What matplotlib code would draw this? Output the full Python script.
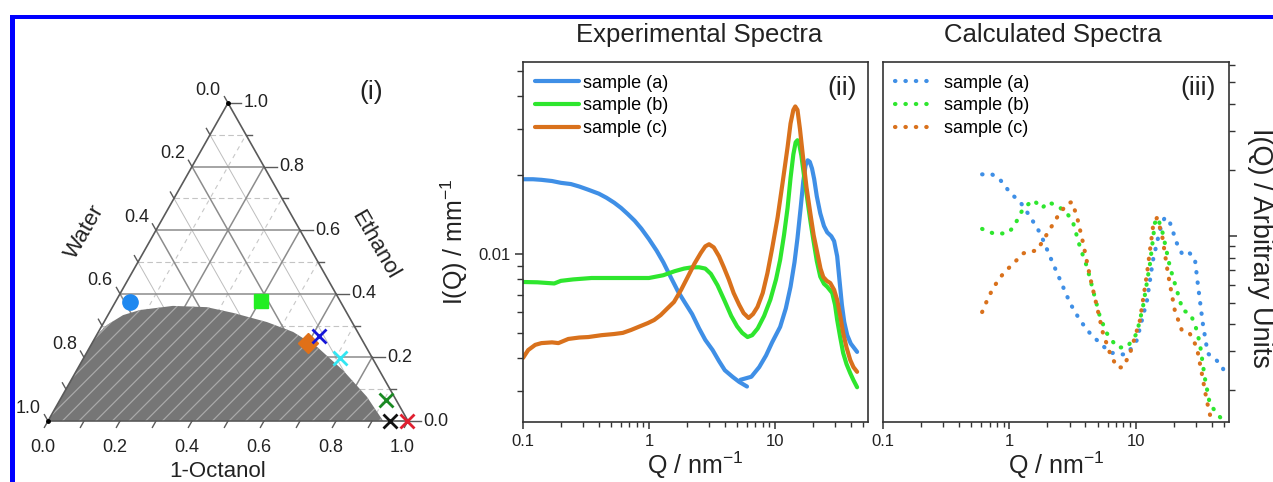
import numpy as np
import matplotlib
matplotlib.use("Agg")
import matplotlib.pyplot as plt
from matplotlib.patches import Rectangle, Polygon
from matplotlib.ticker import LogLocator, NullFormatter

plt.rcParams['font.family'] = ['Liberation Sans', 'DejaVu Sans']
plt.rcParams['mathtext.fontset'] = 'custom'
plt.rcParams['mathtext.rm'] = 'Liberation Sans'
plt.rcParams['mathtext.it'] = 'Liberation Sans:italic'
plt.rcParams['hatch.linewidth'] = 0.9

# ---------------- ternary phase diagram data (fractions) ----------------
binodal_octanol = [0.0, 0.0, 0.0, 0.0, 0.004, 0.013, 0.042, 0.081, 0.166, 0.262,
                   0.344, 0.453, 0.541, 0.631, 0.739, 0.848, 0.931]
binodal_ethanol = [0.0, 0.098, 0.192, 0.261, 0.280, 0.302, 0.333, 0.349, 0.362, 0.358,
                   0.340, 0.311, 0.280, 0.233, 0.160, 0.076, 0.0]

sample_octanol = [0.040, 0.403, 0.600]
sample_ethanol = [0.375, 0.378, 0.246]
sample_markers = ['o', 's', 'D']
sample_colors = ['#1e88f0', '#22ee22', '#e07018']
sample_sizes = [11, 10, 10]

cross_octanol = [0.619, 0.713, 0.906, 0.950, 0.998]
cross_ethanol = [0.267, 0.197, 0.066, 0.0, 0.0]
cross_colors = ['#1515d8', '#33e6f2', '#1a8a22', '#111111', '#e02030']

# ---------------- experimental spectra ----------------
exp_q_a = [0.1, 0.12, 0.14, 0.17, 0.2, 0.24, 0.28, 0.33, 0.4, 0.46, 0.53, 0.6, 0.68, 0.77,
           0.87, 1.0, 1.15, 1.3, 1.5, 1.7, 1.9, 2.2, 2.5, 2.8, 3.2, 3.6, 4.0, 4.6, 5.2, 6.0]
exp_i_a = [0.0193, 0.0193, 0.0192, 0.0190, 0.0187, 0.0185, 0.0181, 0.0176, 0.0170, 0.0164,
           0.0157, 0.0150, 0.0142, 0.0134, 0.0125, 0.0114, 0.0103, 0.0093, 0.0081, 0.0072,
           0.0066, 0.0059, 0.0052, 0.0047, 0.0043, 0.0039, 0.0036, 0.0034, 0.00325, 0.00312]
exp_q_a2 = [5.33, 6.5, 7.5, 8.5, 9.5, 11.0, 12.2, 13.3, 14.3, 15.1, 16.0, 16.8, 17.5, 18.2,
            18.9, 19.7, 20.5, 21.5, 22.9, 24.5, 26.0, 28.0, 29.5, 31.2, 32.5, 34.0, 35.5,
            37.5, 40.0, 44.9]
exp_i_a2 = [0.00331, 0.0034, 0.0037, 0.0041, 0.0046, 0.00527, 0.0062, 0.0075, 0.0093,
            0.0115, 0.0150, 0.0190, 0.0218, 0.0228, 0.0225, 0.0212, 0.0193, 0.0166, 0.0143,
            0.0128, 0.0121, 0.0117, 0.0112, 0.0098, 0.0080, 0.0064, 0.0055, 0.0049, 0.00455,
            0.00423]

exp_q_b = [0.1, 0.13, 0.177, 0.2, 0.25, 0.35, 0.5, 0.7, 1.0, 1.3, 1.6, 1.9, 2.2, 2.5, 2.8,
           3.1, 3.5, 4.0, 4.5, 5.0, 5.5, 6.06, 6.6, 7.3, 8.2, 9.2, 10.2, 11.0, 11.8, 12.6,
           13.3, 14.0, 14.6, 15.1, 15.6, 16.2, 17.0, 18.1, 19.2, 20.2, 21.5, 22.9, 24.5, 26.0,
           28.5, 30.0, 31.2, 33.0, 34.8, 37.0, 39.6, 42.0, 44.9]
exp_i_b = [0.00782, 0.0078, 0.00772, 0.0079, 0.0080, 0.0081, 0.0081, 0.0081, 0.0081, 0.0083,
           0.0086, 0.0088, 0.0089, 0.0089, 0.0088, 0.0084, 0.0076, 0.0066, 0.0058, 0.0053,
           0.0050, 0.00482, 0.0049, 0.0052, 0.0058, 0.0067, 0.0080, 0.0095, 0.0118, 0.0150,
           0.0195, 0.0240, 0.0267, 0.0272, 0.0262, 0.0238, 0.0200, 0.0161, 0.0132, 0.0113,
           0.0094, 0.0082, 0.0077, 0.0075, 0.0071, 0.0064, 0.0056, 0.0048, 0.00419, 0.0038,
           0.00351, 0.0033, 0.0031]

exp_q_c = [0.1, 0.11, 0.125, 0.14, 0.17, 0.191, 0.229, 0.28, 0.33, 0.42, 0.528, 0.62, 0.721,
           0.85, 0.98, 1.1, 1.24, 1.4, 1.58, 1.8, 2.03, 2.3, 2.58, 2.8, 3.0, 3.27, 3.6, 3.92,
           4.3, 4.7, 5.2, 5.64, 6.18, 6.7, 7.27, 8.0, 8.72, 9.5, 10.5, 11.5, 12.6, 13.3, 14.0,
           14.5, 15.1, 15.8, 16.8, 17.8, 19.1, 20.3, 21.7, 23.0, 24.2, 25.8, 27.5, 29.5, 31.2,
           33.0, 34.8, 37.0, 39.6, 42.0, 44.9]
exp_i_c = [0.00401, 0.0043, 0.0045, 0.00457, 0.0046, 0.00457, 0.00474, 0.0048, 0.00482,
           0.0049, 0.00495, 0.0050, 0.00513, 0.0053, 0.00545, 0.0056, 0.00585, 0.0062,
           0.00656, 0.0073, 0.00817, 0.0092, 0.0101, 0.0107, 0.0109, 0.0106, 0.0098, 0.00892,
           0.0080, 0.0071, 0.0064, 0.00595, 0.0057, 0.0059, 0.00628, 0.0071, 0.00846, 0.0105,
           0.0138, 0.0187, 0.0256, 0.0315, 0.0355, 0.0366, 0.0355, 0.0300, 0.0229, 0.0180,
           0.0143, 0.0118, 0.0101, 0.0088, 0.00817, 0.0079, 0.00775, 0.0073, 0.00668, 0.0058,
           0.0050, 0.0044, 0.00394, 0.0037, 0.00355]

# ---------------- calculated spectra (arbitrary units) ----------------
calc_q_a = [0.609, 0.730, 0.849, 1.02, 1.22, 1.47, 1.76, 2.11, 2.53, 3.03, 3.63, 4.36, 5.23,
            6.27, 7.52, 8.54, 10.2, 12.3, 13.7, 15.5, 17.0, 18.7, 21.2, 23.6, 26.8, 29.4,
            31.0, 34.0, 37.2, 43.8, 48.9, 50.7]
calc_i_a = [1.91, 1.91, 1.80, 1.57, 1.43, 1.22, 1.03, 0.803, 0.631, 0.496, 0.415, 0.362,
            0.327, 0.297, 0.291, 0.291, 0.337, 0.512, 0.778, 1.06, 1.22, 1.15, 0.929, 0.820,
            0.837, 0.794, 0.611, 0.402, 0.294, 0.273, 0.254, 0.233]

calc_q_b = [0.609, 0.748, 0.964, 1.08, 1.29, 1.55, 1.82, 2.0, 2.39, 2.87, 3.20, 3.63, 4.13,
            4.60, 5.23, 5.93, 7.12, 8.54, 10.2, 11.4, 13.0, 14.2, 15.0, 16.4, 18.7, 21.2,
            23.6, 26.8, 29.4, 32.2, 35.2, 38.6, 43.8, 50.7]
calc_i_b = [1.08, 1.03, 1.03, 1.10, 1.34, 1.46, 1.34, 1.43, 1.38, 1.27, 1.15, 0.891, 0.723,
            0.568, 0.428, 0.362, 0.313, 0.313, 0.362, 0.476, 0.754, 1.15, 1.21, 1.03, 0.723,
            0.568, 0.461, 0.447, 0.402, 0.327, 0.229, 0.174, 0.157, 0.143]

calc_q_c = [0.609, 0.667, 0.748, 0.897, 1.08, 1.29, 1.66, 2.0, 2.39, 2.87, 3.14, 3.44, 3.84,
            4.36, 4.95, 5.52, 6.27, 7.12, 7.94, 9.02, 10.8, 12.3, 13.7, 14.7, 16.1, 18.0,
            20.4, 23.2, 26.8, 30.5, 33.4, 36.5, 40.0]
calc_i_c = [0.453, 0.512, 0.586, 0.679, 0.754, 0.837, 0.864, 1.03, 1.22, 1.41, 1.43, 1.22,
            0.929, 0.651, 0.476, 0.362, 0.294, 0.254, 0.254, 0.294, 0.415, 0.679, 1.10, 1.21,
            1.03, 0.679, 0.461, 0.374, 0.362, 0.313, 0.238, 0.180, 0.143]

series_labels = ['sample (a)', 'sample (b)', 'sample (c)']
line_colors = ['#3f8fe6', '#2ee62e', '#d9711c']
q_ticks = [0.1, 1, 10]
q_tick_labels = ['0.1', '1', '10']

TEXT = '#222222'
SPINE = '#333333'

fig = plt.figure(figsize=(12.73, 4.82), dpi=100)
W, H = 1273.0, 482.0

# frame lines along the top and left edge
fig.add_artist(Rectangle((10 / W, 0), 5 / W, (H - 15) / H, transform=fig.transFigure,
                         facecolor='#0000ff', edgecolor='none'))
fig.add_artist(Rectangle((10 / W, (H - 19) / H), 1 - 10 / W, 4 / H, transform=fig.transFigure,
                         facecolor='#0000ff', edgecolor='none'))

# ---------------- (i) ternary diagram ----------------
S3 = np.sqrt(3) / 2
px_x, px_y = 360.0, 367.2
ax0 = fig.add_axes([0, 0, 470 / W, 1])
ax0.set_xlim(-48 / px_x, (470 - 48) / px_x)
ax0.set_ylim(-(H - 421) / px_y, 421 / px_y)
ax0.axis('off')


def txy(o, e):
    o = np.asarray(o, dtype=float)
    e = np.asarray(e, dtype=float)
    return o + e / 2, e * S3


levels = np.round(np.arange(0.1, 1.0, 0.1), 1)
for v in levels:
    major = abs(v * 5 - round(v * 5)) < 1e-6
    # constant ethanol (horizontal)
    x, y = txy([0, 1 - v], [v, v])
    if major:
        ax0.plot(x, y, color='#8c8c8c', lw=1.1, zorder=2)
    else:
        ax0.plot(x, y, color='#c4c4c4', lw=0.8, ls=(0, (5, 3)), zorder=1)
    # constant octanol
    x, y = txy([v, v], [0, 1 - v])
    if major:
        ax0.plot(x, y, color='#8c8c8c', lw=1.1, zorder=2)
    else:
        ax0.plot(x, y, color='#c8c8c8', lw=0.8, ls=(0, (4, 4)), zorder=1)
    # constant water
    x, y = txy([1 - v, 0], [0, 1 - v])
    if major:
        ax0.plot(x, y, color='#8c8c8c', lw=1.1, zorder=2)
    else:
        ax0.plot(x, y, color='#bdbdbd', lw=0.7, zorder=1)

# two-phase region
bx, by = txy(binodal_octanol, binodal_ethanol)
pts = np.column_stack([bx, by])
ax0.add_patch(Polygon(pts, closed=True, facecolor='#767676', edgecolor='none', zorder=3))
ax0.add_patch(Polygon(pts, closed=True, facecolor='none', edgecolor='#a9a9a9', hatch='//',
                      lw=0, zorder=3.1))

# triangle frame
tx, ty = txy([0, 1, 0, 0], [0, 0, 1, 0])
ax0.plot(tx, ty, color='#5a5a5a', lw=1.2, zorder=4, solid_joinstyle='miter')

# ticks on the three sides
tick_len = 0.02
for v in np.round(np.arange(0.0, 1.01, 0.1), 1):
    major = abs(v * 5 - round(v * 5)) < 1e-6
    # bottom (1-octanol)
    x0, y0 = txy(v, 0)
    ax0.plot([x0, x0 - 0.5 * tick_len], [y0, y0 - S3 * tick_len], color='#5a5a5a',
             lw=1.0, zorder=4)
    # right (ethanol)
    x0, y0 = txy(1 - v, v)
    L = 0.035 if major else 0.018
    ax0.plot([x0, x0 + L], [y0, y0], color='#5a5a5a', lw=1.0, zorder=4)
    # left (water)
    x0, y0 = txy(0, 1 - v)
    ax0.plot([x0, x0 - 0.5 * tick_len], [y0, y0 + S3 * tick_len], color='#5a5a5a',
             lw=1.0, zorder=4)

ax0.plot([0, 0.5], [0, S3], ls='none', marker='o', ms=2.5, color='black', zorder=5)

for v in np.round(np.arange(0.0, 1.01, 0.2), 1):
    lab = f'{v:.1f}'
    x0, y0 = txy(v, 0)
    ax0.text(x0 - 0.015, y0 - 0.05, lab, ha='center', va='top', fontsize=13, color=TEXT)
    x0, y0 = txy(1 - v, v)
    ax0.text(x0 + 0.043, y0, lab, ha='left', va='center', fontsize=13, color=TEXT)
    x0, y0 = txy(0, 1 - v)
    ax0.text(x0 - 0.02, y0 + 0.012, lab, ha='right', va='bottom', fontsize=13, color=TEXT)

ax0.text(0.103, 0.515, 'Water', rotation=60, ha='center', va='center', fontsize=16,
         color=TEXT)
ax0.text(0.908, 0.479, 'Ethanol', rotation=-60, ha='center', va='center', fontsize=16,
         color=TEXT)
ax0.text(0.471, -0.152, '1-Octanol', ha='center', va='baseline', fontsize=16, color=TEXT)
ax0.text(0.897, 0.896, '(i)', ha='center', va='center', fontsize=19, color=TEXT)

for o, e, m, c, s in zip(sample_octanol, sample_ethanol, sample_markers, sample_colors,
                         sample_sizes):
    x0, y0 = txy(o, e)
    ax0.plot([x0], [y0], marker=m, ms=s, color=c, mec=c, ls='none', zorder=6)
for o, e, c in zip(cross_octanol, cross_ethanol, cross_colors):
    x0, y0 = txy(o, e)
    ax0.plot([x0], [y0], marker='x', ms=10, mew=2, color=c, ls='none', zorder=6,
             clip_on=False)


# ---------------- spectra panels ----------------
def style_axes(ax):
    ax.set_xscale('log')
    ax.set_yscale('log')
    ax.set_xlim(0.1, 54.8)
    for sp in ax.spines.values():
        sp.set_color(SPINE)
        sp.set_linewidth(1.2)
    ax.set_xticks(q_ticks)
    ax.set_xticklabels(q_tick_labels)
    ax.xaxis.set_minor_locator(LogLocator(base=10, subs=np.arange(2, 10)))
    ax.xaxis.set_minor_formatter(NullFormatter())
    ax.tick_params(axis='x', which='major', direction='out', length=5, width=1.1,
                   color=SPINE, labelsize=12, labelcolor=TEXT, pad=4)
    ax.tick_params(axis='x', which='minor', direction='out', length=3.5, width=1.0,
                   color=SPINE)
    ax.set_xlabel('Q / nm$^{-1}$', fontsize=18, color=TEXT, labelpad=0)


ax1 = fig.add_axes([523 / W, (H - 421.7) / H, 345 / W, 359.7 / H])
style_axes(ax1)
ax1.set_ylim(0.00229, 0.0541)
ax1.set_yticks([0.01])
ax1.set_yticklabels(['0.01'])
ax1.yaxis.set_minor_locator(LogLocator(base=10, subs=np.arange(2, 10)))
ax1.yaxis.set_minor_formatter(NullFormatter())
ax1.tick_params(axis='y', which='major', direction='out', length=6, width=1.1,
                color=SPINE, labelsize=12, labelcolor=TEXT, pad=3)
ax1.tick_params(axis='y', which='minor', direction='out', length=4, width=1.0, color=SPINE)
ax1.set_ylabel('I(Q) / mm$^{-1}$', fontsize=18, color=TEXT, labelpad=6)

ax1.plot(exp_q_a, exp_i_a, color=line_colors[0], lw=3, label=series_labels[0],
         solid_capstyle='round', solid_joinstyle='round')
ax1.plot(exp_q_a2, exp_i_a2, color=line_colors[0], lw=3, solid_capstyle='round',
         solid_joinstyle='round')
ax1.plot(exp_q_b, exp_i_b, color=line_colors[1], lw=3, label=series_labels[1],
         solid_capstyle='round', solid_joinstyle='round')
ax1.plot(exp_q_c, exp_i_c, color=line_colors[2], lw=3, label=series_labels[2],
         solid_capstyle='round', solid_joinstyle='round')
ax1.legend(loc='upper left', bbox_to_anchor=(0.02, 0.98), frameon=False, fontsize=13,
           handlelength=2.4, handletextpad=0.25, labelspacing=0.32, borderpad=0.3,
           borderaxespad=0)
ax1.text(0.968, 0.928, '(ii)', transform=ax1.transAxes, ha='right', va='center',
         fontsize=19, color=TEXT)

ax2 = fig.add_axes([883 / W, (H - 421.7) / H, 346 / W, 359.7 / H])
style_axes(ax2)
ax2.set_ylim(0.144, 6.18)
ax2.yaxis.set_label_position('right')
ax2.yaxis.tick_right()
ax2.set_yticks([1])
ax2.set_yticklabels([''])
ax2.yaxis.set_minor_locator(LogLocator(base=10, subs=np.arange(2, 10)))
ax2.yaxis.set_minor_formatter(NullFormatter())
ax2.tick_params(axis='y', which='major', direction='out', length=6, width=1.1, color=SPINE)
ax2.tick_params(axis='y', which='minor', direction='out', length=4, width=1.0, color=SPINE)
ax2.set_ylabel('I(Q) / Arbitrary Units', fontsize=19.5, color=TEXT, rotation=-90)
ax2.yaxis.set_label_coords(1.09, 0.483)
ax2.yaxis.label.set_va('center')

dot = (0, (0.1, 2.4))
for q, i, c, lab in zip([calc_q_a, calc_q_b, calc_q_c], [calc_i_a, calc_i_b, calc_i_c],
                        line_colors, series_labels):
    ax2.plot(q, i, color=c, lw=3, ls=dot, dash_capstyle='round', label=lab)
ax2.legend(loc='upper left', bbox_to_anchor=(0.02, 0.98), frameon=False, fontsize=13,
           handlelength=2.1, handletextpad=0.6, labelspacing=0.32, borderpad=0.3,
           borderaxespad=0)
ax2.text(0.962, 0.928, '(iii)', transform=ax2.transAxes, ha='right', va='center',
         fontsize=19, color=TEXT)

fig.text(699 / W, (H - 42) / H, 'Experimental Spectra', ha='center', va='baseline',
         fontsize=18.5, color=TEXT)
fig.text(1053 / W, (H - 42) / H, 'Calculated Spectra', ha='center', va='baseline',
         fontsize=18.5, color=TEXT)

fig.savefig('out.png', dpi=100, facecolor='white')
